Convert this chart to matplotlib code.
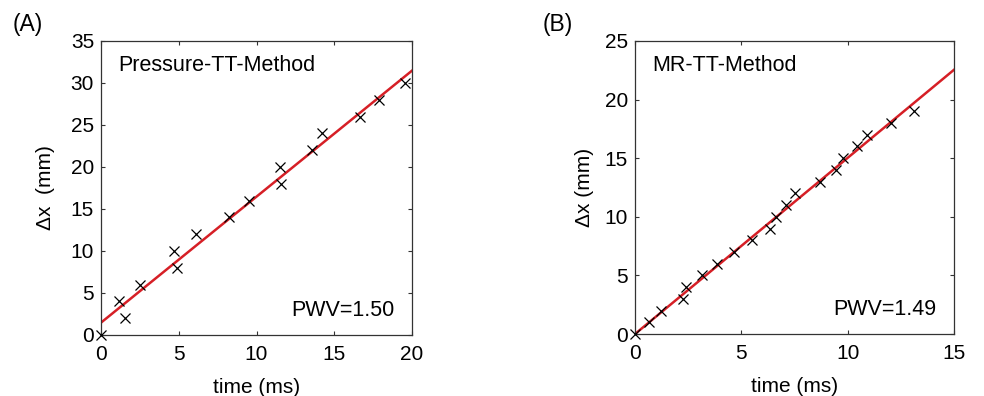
import matplotlib.pyplot as plt
import numpy as np

plt.rcParams['font.family'] = ['Liberation Sans', 'DejaVu Sans']

""" Data """

# (A) pressure transit time
t_press = [0.0, 1.16, 1.55, 2.49, 4.68, 4.87, 6.12, 8.2, 9.53, 11.52, 11.6,
           13.54, 14.2, 16.63, 17.9, 19.53]
dx_press = [0, 4, 2, 6, 10, 8, 12, 14, 16, 20, 18, 22, 24, 26, 28, 30]
fit_press = (1.50, 1.47)   # slope, intercept

# (B) MR transit time
t_mr = [0.0, 0.66, 1.22, 2.24, 2.4, 3.13, 3.84, 4.67, 5.51, 6.34, 6.62,
        7.09, 7.52, 8.72, 9.47, 9.79, 10.46, 10.93, 12.02, 13.12]
dx_mr = [0, 1, 2, 3, 4, 5, 6, 7, 8, 9, 10, 11, 12, 13, 14, 15, 16, 17, 18, 19]
fit_mr = (1.503, 0.0)

xticks_a = [0, 5, 10, 15, 20]
yticks_a = [0, 5, 10, 15, 20, 25, 30, 35]
xticks_b = [0, 5, 10, 15]
yticks_b = [0, 5, 10, 15, 20, 25]

""" Plot """

fig = plt.figure(figsize=(9.84, 3.96), dpi=100)
W, H = 984, 396
ax1 = fig.add_axes([101 / W, 1 - 335 / H, 311 / W, 294 / H])
ax2 = fig.add_axes([635 / W, 1 - 334 / H, 319 / W, 293 / H])


def panel(ax, t, dx, fit, xt, yt, method, pwv, ylab, letter, lx, ypad):
    ax.plot(t, dx, 'x', color='black', markersize=7, markeredgewidth=0.9,
            clip_on=False, zorder=3)
    xx = np.array([xt[0], xt[-1]])
    ax.plot(xx, fit[0] * xx + fit[1], color='#d61f26', linewidth=1.8, zorder=2)
    ax.set_xlim(xt[0], xt[-1])
    ax.set_ylim(yt[0], yt[-1])
    ax.set_xticks(xt)
    ax.set_yticks(yt)
    ax.tick_params(direction='in', top=True, right=True, length=3,
                   width=0.8, labelsize=15, color='#333333', pad=5)
    ax.tick_params(axis='x', pad=7)
    for s in ax.spines.values():
        s.set_color('#333333')
        s.set_linewidth(0.9)
    ax.set_xlabel('time (ms)', fontsize=15, labelpad=10)
    ax.set_ylabel(ylab, fontsize=15, labelpad=ypad)
    ax.text(0.055, 0.915, method, transform=ax.transAxes, fontsize=15.5,
            ha='left', va='center')
    ax.text(0.945, 0.083, pwv, transform=ax.transAxes, fontsize=15.5,
            ha='right', va='center')
    fig.text(lx / W, 1 - 24 / H, letter, fontsize=16.5, ha='center', va='center')


panel(ax1, t_press, dx_press, fit_press, xticks_a, yticks_a,
      'Pressure-TT-Method', 'PWV=1.50', 'Δx  (mm)', '(A)', 28, 11)
panel(ax2, t_mr, dx_mr, fit_mr, xticks_b, yticks_b,
      'MR-TT-Method', 'PWV=1.49', 'Δx (mm)', '(B)', 558, 8)

fig.savefig('out.png', dpi=100)
